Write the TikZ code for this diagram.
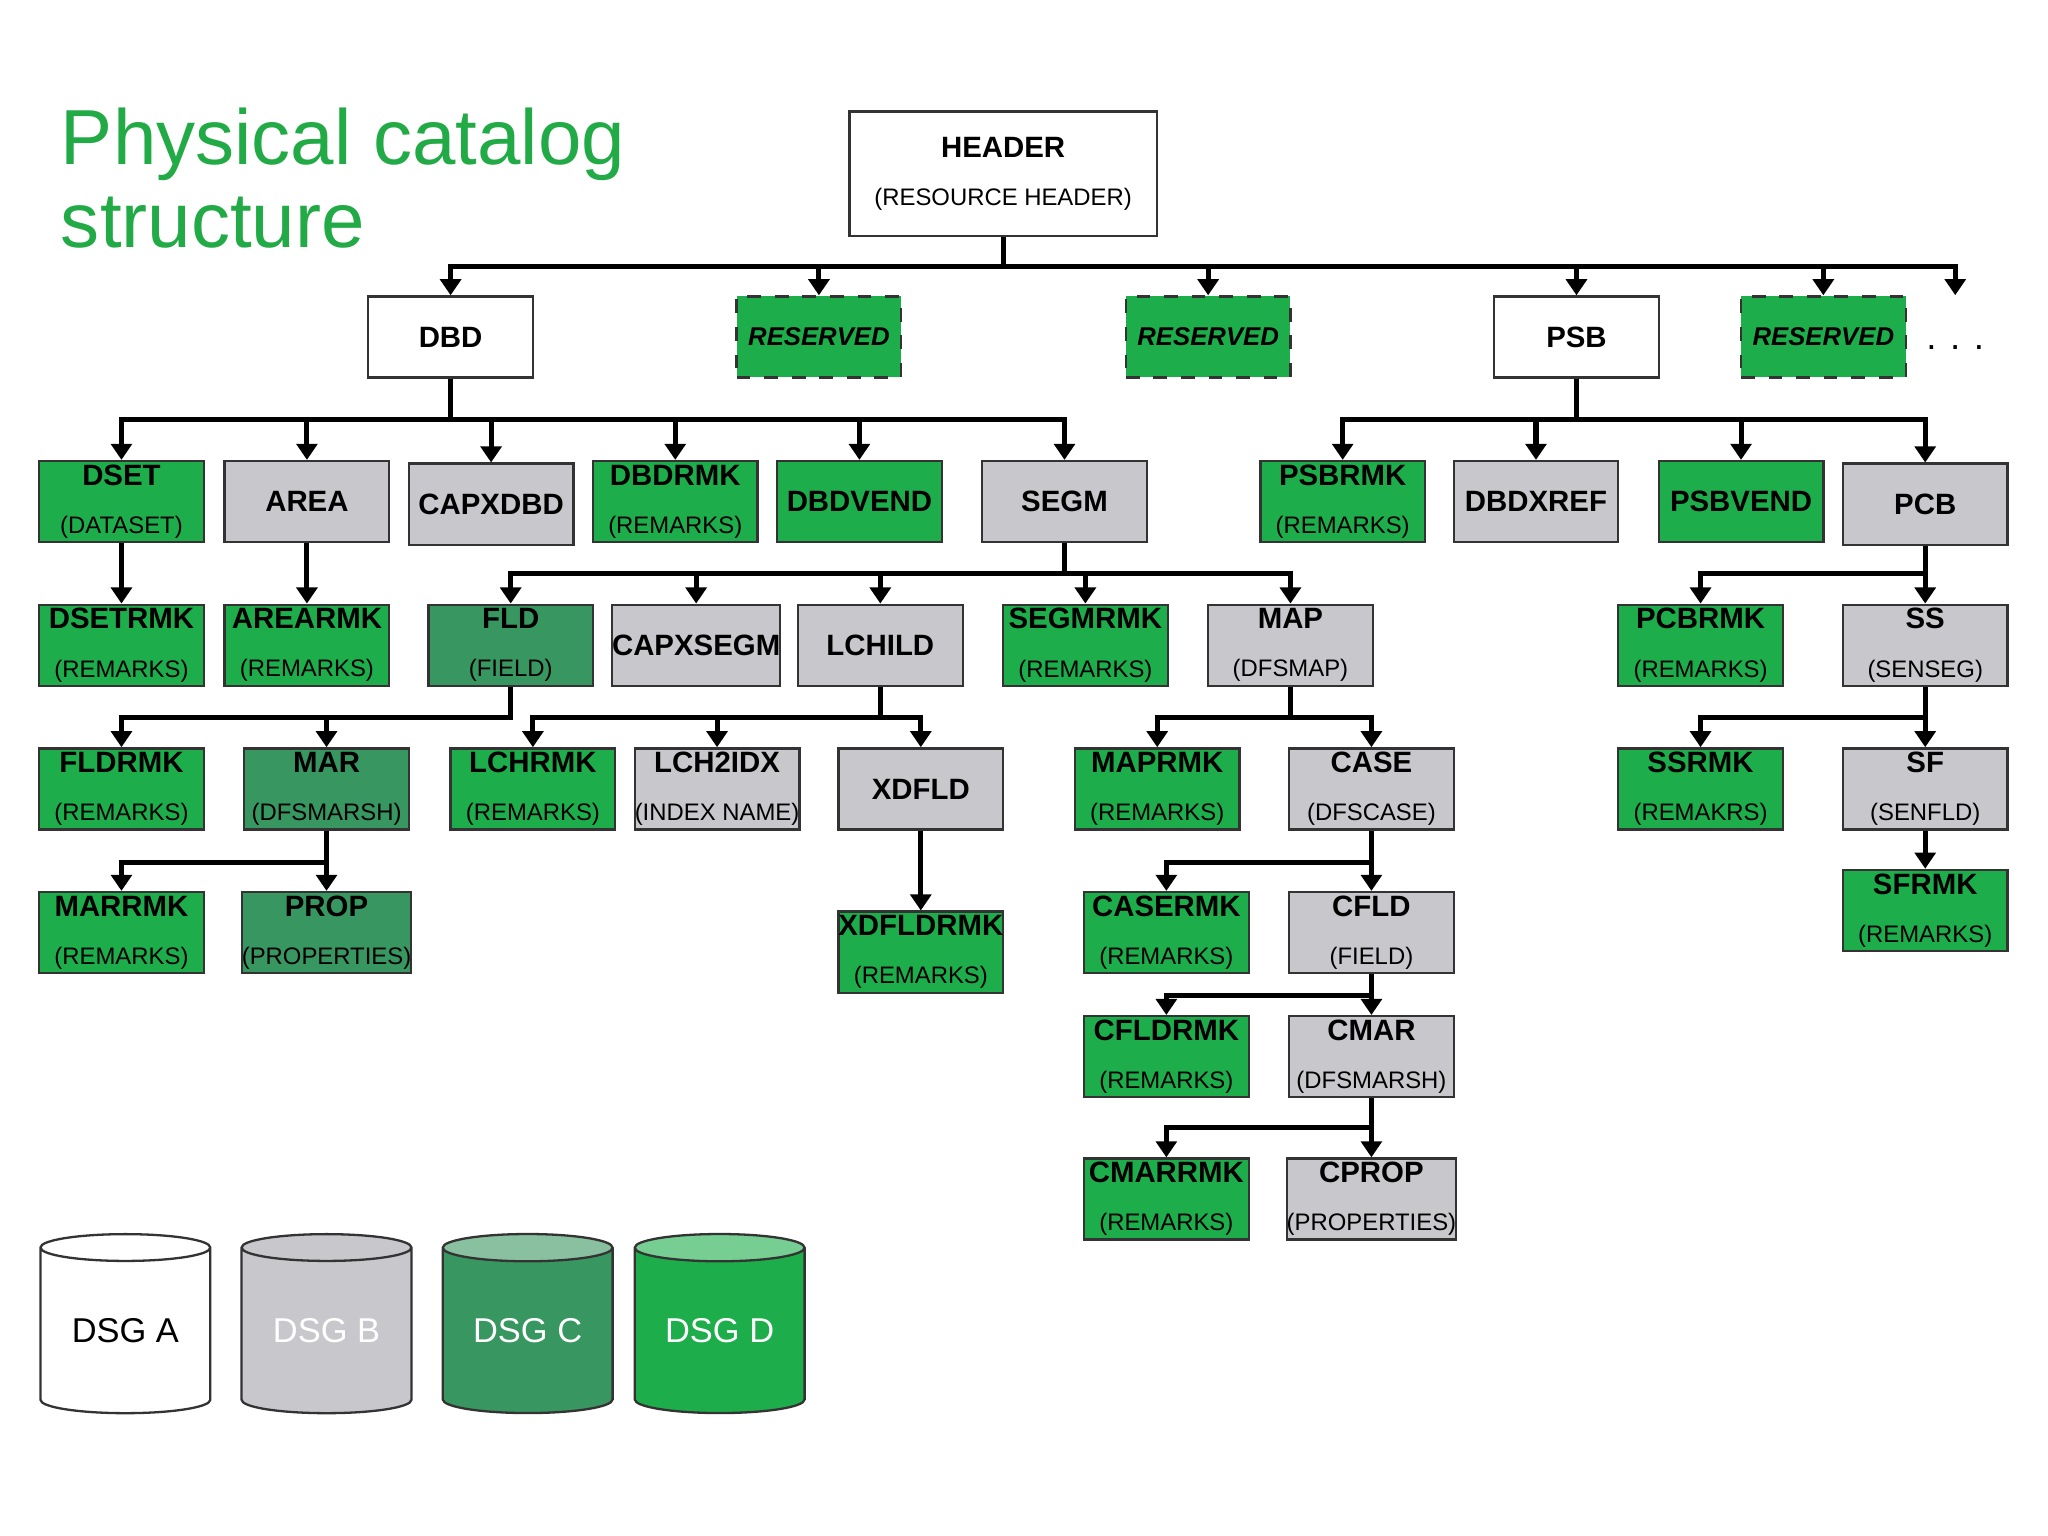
\documentclass[tikz,border=0pt]{standalone}
\usepackage{fontspec}
\setmainfont{Liberation Sans}
\usetikzlibrary{arrows.meta,shapes.geometric}
\definecolor{cgreen}{RGB}{29,174,75}
\definecolor{cdark}{RGB}{56,150,96}
\definecolor{cgray}{RGB}{200,199,204}
\definecolor{ttl}{RGB}{34,170,70}
\newcommand\lb[2]{{\fontsize{6.4}{7}\selectfont\bfseries #1}\\[-1.5pt]{\fontsize{5.2}{6}\selectfont #2}}
\newcommand\tb[1]{{\fontsize{6.4}{7}\selectfont\bfseries #1}}
\newcommand\tree[3]{\foreach \c in {#3}{\draw[arr] (#1.south) |- (#2 -| \c.north) -- (\c.north);}}
\begin{document}
\begin{tikzpicture}[x=0.01cm,y=0.01cm,
  box/.style={draw=black!80, line width=0.5pt, minimum width=1.26cm, minimum height=0.62cm,
    inner sep=0pt, align=center},
  w/.style={box, fill=white},
  g/.style={box, fill=cgreen},
  d/.style={box, fill=cdark},
  s/.style={box, fill=cgray},
  res/.style={box, fill=cgreen, dashed, font=\fontsize{5.6}{6}\selectfont\bfseries\itshape},
  arr/.style={line width=1.1pt, line join=miter, -{Triangle[width=4.5pt,length=3.5pt]}},
  cyl/.style={cylinder, shape border rotate=90, aspect=0.25, draw=black!80, line width=0.5pt,
    minimum width=1.3cm, minimum height=1.37cm, font=\fontsize{7.5}{8}\selectfont, inner sep=0pt}]
\useasboundingbox (0,0) rectangle (1568,-1176);
\node[anchor=north west, align=left, text=ttl, font=\fontsize{17}{18}\selectfont, inner sep=0pt] (title) at (46,-82) {Physical catalog\\structure};
\node[w, minimum width=2.35cm, minimum height=0.95cm] (hdr) at (768,-133) {\lb{HEADER}{(RESOURCE HEADER)}};
% row 1
\node[w] (dbd) at (345,-258) {\tb{DBD}};
\node[res] (r1) at (627,-258) {RESERVED};
\node[res] (r2) at (925,-258) {RESERVED};
\node[w] (psb) at (1207,-258) {\tb{PSB}};
\node[res] (r3) at (1396,-258) {RESERVED};
\coordinate (more) at (1497,-226);
\node[font=\fontsize{8}{8}\selectfont] (dots) at (1497,-266) {. . .};
% row 2
\node[g] (dset) at (93,-384) {\lb{DSET}{(DATASET)}};
\node[s] (area) at (235,-384) {\tb{AREA}};
\node[s] (capxdbd) at (376,-386) {\tb{CAPXDBD}};
\node[g] (dbdrmk) at (517,-384) {\lb{DBDRMK}{(REMARKS)}};
\node[g] (dbdvend) at (658,-384) {\tb{DBDVEND}};
\node[s] (segm) at (815,-384) {\tb{SEGM}};
\node[g] (psbrmk) at (1028,-384) {\lb{PSBRMK}{(REMARKS)}};
\node[s] (dbdxref) at (1176,-384) {\tb{DBDXREF}};
\node[g] (psbvend) at (1333,-384) {\tb{PSBVEND}};
\node[s] (pcb) at (1474,-386) {\tb{PCB}};
% row 3
\node[g] (dsetrmk) at (93,-494) {\lb{DSETRMK}{(REMARKS)}};
\node[g] (arearmk) at (235,-494) {\lb{AREARMK}{(REMARKS)}};
\node[d] (fld) at (391,-494) {\lb{FLD}{(FIELD)}};
\node[s] (capxsegm) at (533,-494) {\tb{CAPXSEGM}};
\node[s] (lchild) at (674,-494) {\tb{LCHILD}};
\node[g] (segmrmk) at (831,-494) {\lb{SEGMRMK}{(REMARKS)}};
\node[s] (map) at (988,-494) {\lb{MAP}{(DFSMAP)}};
\node[g] (pcbrmk) at (1302,-494) {\lb{PCBRMK}{(REMARKS)}};
\node[s] (ss) at (1474,-494) {\lb{SS}{(SENSEG)}};
% row 4
\node[g] (fldrmk) at (93,-604) {\lb{FLDRMK}{(REMARKS)}};
\node[d] (mar) at (250,-604) {\lb{MAR}{(DFSMARSH)}};
\node[g] (lchrmk) at (408,-604) {\lb{LCHRMK}{(REMARKS)}};
\node[s] (lch2idx) at (549,-604) {\lb{LCH2IDX}{(INDEX NAME)}};
\node[s] (xdfld) at (705,-604) {\tb{XDFLD}};
\node[g] (maprmk) at (886,-604) {\lb{MAPRMK}{(REMARKS)}};
\node[s] (case) at (1050,-604) {\lb{CASE}{(DFSCASE)}};
\node[g] (ssrmk) at (1302,-604) {\lb{SSRMK}{(REMAKRS)}};
\node[s] (sf) at (1474,-604) {\lb{SF}{(SENFLD)}};
% row 5
\node[g] (marrmk) at (93,-714) {\lb{MARRMK}{(REMARKS)}};
\node[d] (prop) at (250,-714) {\lb{PROP}{(PROPERTIES)}};
\node[g] (xdfldrmk) at (705,-729) {\lb{XDFLDRMK}{(REMARKS)}};
\node[g] (casermk) at (893,-714) {\lb{CASERMK}{(REMARKS)}};
\node[s] (cfld) at (1050,-714) {\lb{CFLD}{(FIELD)}};
\node[g] (sfrmk) at (1474,-697) {\lb{SFRMK}{(REMARKS)}};
% rows 6-7
\node[g] (cfldrmk) at (893,-809) {\lb{CFLDRMK}{(REMARKS)}};
\node[s] (cmar) at (1050,-809) {\lb{CMAR}{(DFSMARSH)}};
\node[g] (cmarrmk) at (893,-918) {\lb{CMARRMK}{(REMARKS)}};
\node[s] (cprop) at (1050,-918) {\lb{CPROP}{(PROPERTIES)}};
% buses
\coordinate (b0) at (0,-204);
\coordinate (b1) at (0,-321);
\coordinate (b2) at (0,-439);
\coordinate (b3) at (0,-549);
\coordinate (b4) at (0,-660);
\coordinate (b5) at (0,-762);
\coordinate (b6) at (0,-863);
\tree{hdr}{b0}{dbd,r1,r2,psb,r3}
\draw[arr] (hdr.south) |- (b0 -| more) -- (more);
\tree{dbd}{b1}{dset,area,capxdbd,dbdrmk,dbdvend,segm}
\tree{psb}{b1}{psbrmk,dbdxref,psbvend,pcb}
\tree{dset}{b2}{dsetrmk}
\tree{area}{b2}{arearmk}
\tree{segm}{b2}{fld,capxsegm,lchild,segmrmk,map}
\tree{pcb}{b2}{pcbrmk,ss}
\tree{fld}{b3}{fldrmk,mar}
\tree{lchild}{b3}{lchrmk,lch2idx,xdfld}
\tree{map}{b3}{maprmk,case}
\tree{ss}{b3}{ssrmk,sf}
\tree{mar}{b4}{marrmk,prop}
\tree{case}{b4}{casermk,cfld}
\draw[arr] (xdfld.south) -- (xdfldrmk.north);
\draw[arr] (sf.south) -- (sfrmk.north);
\tree{cfld}{b5}{cfldrmk,cmar}
\tree{cmar}{b6}{cmarrmk,cprop}
% legend
\node[cyl, fill=white] (dsga) at (96,-1019) {DSG A};
\node[cyl, fill=cgray, cylinder uses custom fill, cylinder body fill=cgray, cylinder end fill=cgray!60, text=white] (dsgb) at (250,-1019) {DSG B};
\node[cyl, cylinder uses custom fill, cylinder body fill=cdark, cylinder end fill=cdark!60, text=white] (dsgc) at (404,-1019) {DSG C};
\node[cyl, cylinder uses custom fill, cylinder body fill=cgreen, cylinder end fill=cgreen!60, text=white] (dsgd) at (551,-1019) {DSG D};
\end{tikzpicture}
\end{document}
